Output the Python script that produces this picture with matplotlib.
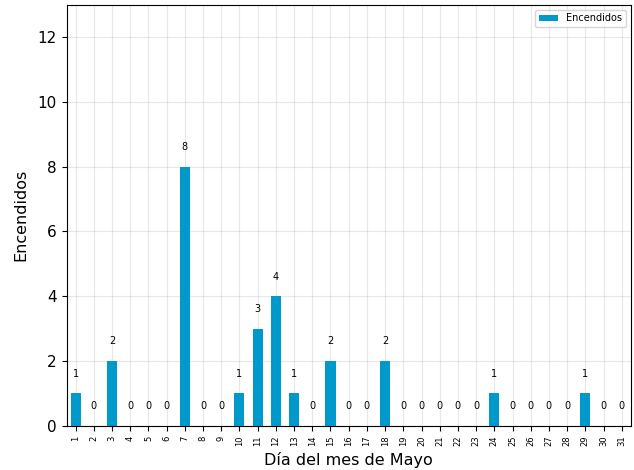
import numpy as np
import matplotlib
matplotlib.use('Agg')
import matplotlib.pyplot as plt

# días del mes de mayo y número de encendidos por día
dias = list(range(1, 32))
encendidos = [1, 0, 2, 0, 0, 0, 8, 0, 0, 1, 3, 4, 1, 0, 2, 0, 0, 2, 0, 0,
              0, 0, 0, 1, 0, 0, 0, 0, 1, 0, 0]

fig, ax = plt.subplots(figsize=(6.34, 4.7), dpi=100)
fig.subplots_adjust(left=0.105, right=0.995, top=0.99, bottom=0.094)

x = np.arange(len(dias))
ax.bar(x, encendidos, width=0.55, color='#0099CC', label='Encendidos', zorder=3)

# etiquetas sobre cada barra
for xi, v in zip(x, encendidos):
    ax.text(xi, v + 0.45, str(v), ha='center', va='bottom', fontsize=7, zorder=4)

ax.set_xticks(x)
ax.set_xticklabels([str(d) for d in dias], rotation=90, fontsize=6)
ax.set_xlim(-0.5, len(dias) - 0.5)
ax.set_ylim(0, 13)
ax.set_yticks(range(0, 13, 2))
ax.tick_params(axis='y', labelsize=11)
ax.grid(True, alpha=0.3, zorder=0)

ax.set_xlabel('Día del mes de Mayo', fontsize=11.5)
ax.set_ylabel('Encendidos', fontsize=11.5, labelpad=7)
ax.legend(loc='upper right', fontsize=7)

plt.savefig('out.png')
